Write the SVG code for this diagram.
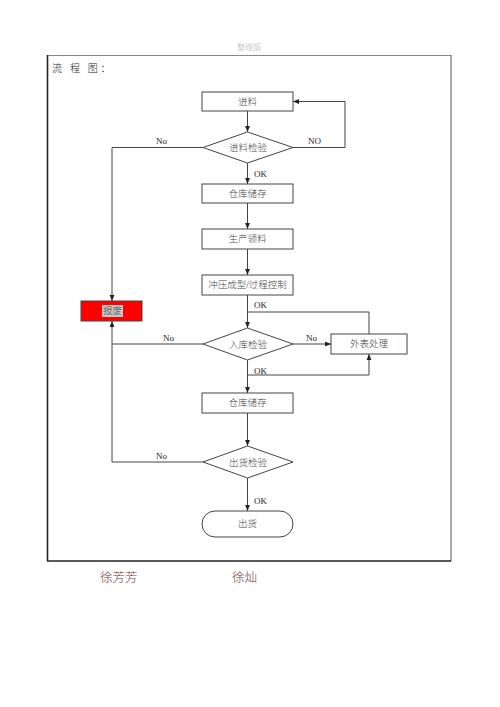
<svg xmlns="http://www.w3.org/2000/svg" width="500" height="707" viewBox="0 0 500 707">
<defs>
<marker id="arr" viewBox="0 0 10 10" refX="10" refY="5" markerWidth="6" markerHeight="6" orient="auto" markerUnits="userSpaceOnUse">
<path d="M0,1 L10,5 L0,9 z" fill="#222"/>
</marker>
</defs>
<style>
.box{fill:#fff;stroke:#444;stroke-width:1}
.t{font-family:"Liberation Serif","Noto Sans CJK SC",serif;font-size:9.5px;font-weight:300;fill:#444;text-anchor:middle;dominant-baseline:central}
.lbl{font-family:"Liberation Serif","Noto Sans CJK SC",serif;font-size:9px;fill:#222}
.c{fill:none;stroke:#444;stroke-width:1}
</style>
<rect width="500" height="707" fill="#fff"/>
<text x="249" y="50" font-family="Liberation Serif,Noto Sans CJK SC,serif" font-size="8" font-weight="300" fill="#aaa" text-anchor="middle">整理版</text>
<g id="frame">
<line x1="47" y1="55.5" x2="451" y2="55.5" stroke="#888" stroke-width="1"/>
<line x1="451" y1="55" x2="451" y2="561" stroke="#555" stroke-width="1"/>
<line x1="47.5" y1="55" x2="47.5" y2="561" stroke="#222" stroke-width="1.6"/>
<line x1="47" y1="561" x2="451" y2="561" stroke="#222" stroke-width="1.6"/>
</g>
<text x="52" y="72" font-family="Liberation Serif,Noto Sans CJK SC,serif" font-size="10" font-weight="300" fill="#222" letter-spacing="2.7">流 程 图：</text>
<g id="connectors">
<line class="c" x1="247.5" y1="111" x2="247.5" y2="132" marker-end="url(#arr)"/>
<polyline class="c" points="293,147.5 345,147.5 345,101.5 293,101.5" marker-end="url(#arr)"/>
<polyline class="c" points="203,147.5 112,147.5 112,301" marker-end="url(#arr)"/>
<line class="c" x1="247.5" y1="163" x2="247.5" y2="184" marker-end="url(#arr)"/>
<line class="c" x1="247.5" y1="203" x2="247.5" y2="229" marker-end="url(#arr)"/>
<line class="c" x1="247.5" y1="249" x2="247.5" y2="275" marker-end="url(#arr)"/>
<line class="c" x1="247.5" y1="295" x2="247.5" y2="328" marker-end="url(#arr)"/>
<polyline class="c" points="369,334 369,312 247.5,312"/>
<line class="c" x1="293" y1="344" x2="331" y2="344" marker-end="url(#arr)"/>
<polyline class="c" points="203,344 112,344 112,321" marker-end="url(#arr)"/>
<line class="c" x1="247.5" y1="360" x2="247.5" y2="393" marker-end="url(#arr)"/>
<polyline class="c" points="247.5,375 369,375 369,354" marker-end="url(#arr)"/>
<line class="c" x1="247.5" y1="413" x2="247.5" y2="446" marker-end="url(#arr)"/>
<polyline class="c" points="203,462 112,462 112,344"/>
<line class="c" x1="247.5" y1="478" x2="247.5" y2="511" marker-end="url(#arr)"/>
<text class="lbl" x="156" y="144">No</text>
<text class="lbl" x="308" y="144">NO</text>
<text class="lbl" x="254" y="177">OK</text>
<text class="lbl" x="254" y="308">OK</text>
<text class="lbl" x="163" y="341">No</text>
<text class="lbl" x="306" y="341">No</text>
<text class="lbl" x="254" y="374">OK</text>
<text class="lbl" x="156" y="459">No</text>
<text class="lbl" x="254" y="504">OK</text>
</g>
<g id="n-jinliao"><rect class="box" x="202" y="92" width="91" height="19"/><text class="t" x="247.5" y="101.5">进料</text></g>
<g id="n-jinliaojianyan"><polygon class="box" points="247.5,132 293,147.5 247.5,163 203,147.5"/><text class="t" x="248" y="148">进料检验</text></g>
<g id="n-cangku1"><rect class="box" x="202" y="184" width="91" height="19"/><text class="t" x="247.5" y="193.5">仓库储存</text></g>
<g id="n-shengchan"><rect class="box" x="202" y="229" width="91" height="20"/><text class="t" x="247.5" y="239">生产领料</text></g>
<g id="n-chongya"><rect class="box" x="202" y="275" width="91" height="20"/><text class="t" x="247.5" y="285">冲压成型/过程控制</text></g>
<g id="n-baofei"><rect x="81" y="301" width="61" height="20" fill="#ff0000" stroke="#444" stroke-width="1"/><rect x="102" y="305" width="21" height="12" fill="#c8c8c8"/><text class="t" x="112.5" y="311">报废</text></g>
<g id="n-rukujianyan"><polygon class="box" points="247.5,328 293,344 247.5,360 203,344"/><text class="t" x="248" y="344.5">入库检验</text></g>
<g id="n-waibiao"><rect class="box" x="331" y="334" width="76" height="20"/><text class="t" x="369" y="344">外表处理</text></g>
<g id="n-cangku2"><rect class="box" x="202" y="393" width="91" height="20"/><text class="t" x="247.5" y="403">仓库储存</text></g>
<g id="n-chuhuojianyan"><polygon class="box" points="247.5,446 293,462 247.5,478 203,462"/><text class="t" x="248" y="462.5">出货检验</text></g>
<g id="n-chuhuo"><rect class="box" x="202" y="511" width="91" height="26" rx="13" ry="13"/><text class="t" x="247.5" y="524">出货</text></g>
<text x="100" y="582" font-family="Liberation Serif,Noto Sans CJK SC,serif" font-size="12.5" font-weight="300" fill="#6e3b3b">徐芳芳</text>
<text x="232" y="582" font-family="Liberation Serif,Noto Sans CJK SC,serif" font-size="12.5" font-weight="300" fill="#6e3b3b">徐灿</text>
</svg>
